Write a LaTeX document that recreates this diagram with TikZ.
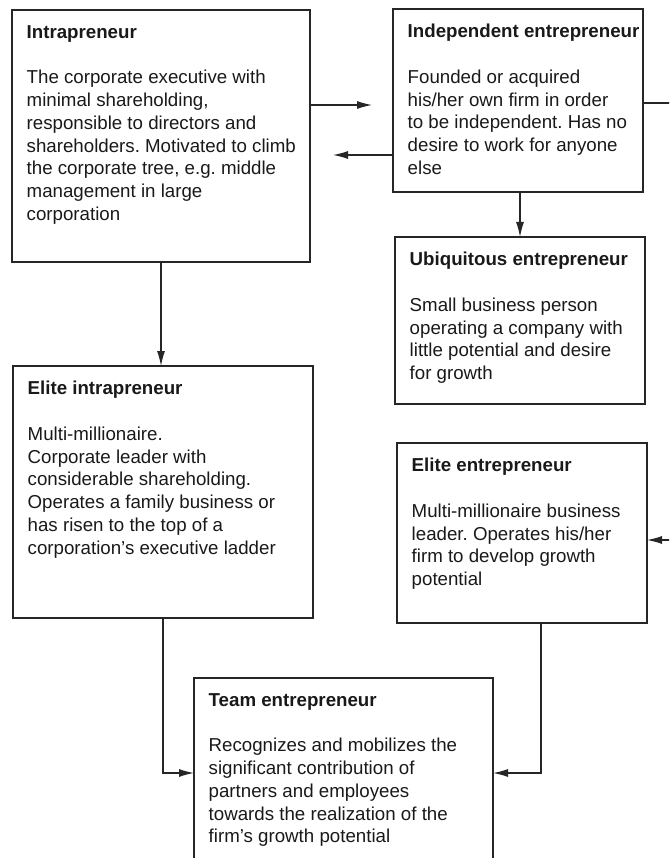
\documentclass[tikz,border=0pt]{standalone}
\usepackage{fontspec}
\setmainfont{Liberation Sans}
\usetikzlibrary{arrows.meta,calc}

\tikzset{
  box/.style={draw=black!85, line width=1.2pt, rectangle, anchor=north west,
    inner sep=0pt, outer sep=0pt},
  boxtext/.style={anchor=north west, align=left, inner sep=0pt,
    text=black!90, font=\fontsize{18.7pt}{22.8pt}\selectfont},
  conn/.style={draw=black!85, line width=1.2pt,
    -{Latex[length=15pt,width=8pt]}},
}

\begin{document}
\frenchspacing
\begin{tikzpicture}[x=1pt,y=-1pt]
\useasboundingbox (0,0) rectangle (669,858);
\clip (0,0) rectangle (669,858);

% Boxes
\node[box, minimum width=298pt, minimum height=252pt] (intra) at (12,10) {};
\node[box, minimum width=250pt, minimum height=183pt] (indep) at (393,9) {};
\node[box, minimum width=250pt, minimum height=167pt] (ubiq) at (395,237) {};
\node[box, minimum width=300pt, minimum height=252pt] (eliteintra) at (13,366) {};
\node[box, minimum width=250pt, minimum height=180pt] (eliteent) at (397,443) {};
\node[box, minimum width=299pt, minimum height=190pt] (team) at (194,678) {};

% Box contents
\node[boxtext] (intra-t) at ([shift={(14.5,15)}]intra.north west)
  {\textbf{Intrapreneur}\\[22.8pt]
   The corporate executive with\\
   minimal shareholding,\\
   responsible to directors and\\
   shareholders. Motivated to climb\\
   the corporate tree, e.g. middle\\
   management in large\\
   corporation};
\node[boxtext] (indep-t) at ([shift={(14.5,15)}]indep.north west)
  {\textbf{Independent entrepreneur}\\[22.8pt]
   Founded or acquired\\
   his/her own firm in order\\
   to be independent. Has no\\
   desire to work for anyone\\
   else};
\node[boxtext] (ubiq-t) at ([shift={(14.5,15)}]ubiq.north west)
  {\textbf{Ubiquitous entrepreneur}\\[22.8pt]
   Small business person\\
   operating a company with\\
   little potential and desire\\
   for growth};
\node[boxtext] (eliteintra-t) at ([shift={(14.5,15)}]eliteintra.north west)
  {\textbf{Elite intrapreneur}\\[22.8pt]
   Multi-millionaire.\\
   Corporate leader with\\
   considerable shareholding.\\
   Operates a family business or\\
   has risen to the top of a\\
   corporation's executive ladder};
\node[boxtext] (eliteent-t) at ([shift={(14.5,15)}]eliteent.north west)
  {\textbf{Elite entrepreneur}\\[22.8pt]
   Multi-millionaire business\\
   leader. Operates his/her\\
   firm to develop growth\\
   potential};
\node[boxtext] (team-t) at ([shift={(14.5,15)}]team.north west)
  {\textbf{Team entrepreneur}\\[22.8pt]
   Recognizes and mobilizes the\\
   significant contribution of\\
   partners and employees\\
   towards the realization of the\\
   firm's growth potential};

% Free ends of the two short horizontal arrows
\coordinate (toindep) at (372,105);
\coordinate (tointra) at (333,155);

% Connectors
\draw[conn] (intra.east |- toindep) -- (toindep);
\draw[conn] (indep.west |- tointra) -- (tointra);
\draw[conn] ([xshift=2pt]indep.south) -- ([xshift=2pt]indep.south |- ubiq.north);
\draw[conn] (intra.south) -- (intra.south |- eliteintra.north);
\draw[conn] ([yshift=-2.5pt]indep.east) -- ++(40,0) |- ([yshift=-7pt]eliteent.east);
\draw[conn] (eliteintra.south) |- (team.west);
\draw[conn] ([xshift=19pt]eliteent.south) |- (team.east);
\end{tikzpicture}
\end{document}
